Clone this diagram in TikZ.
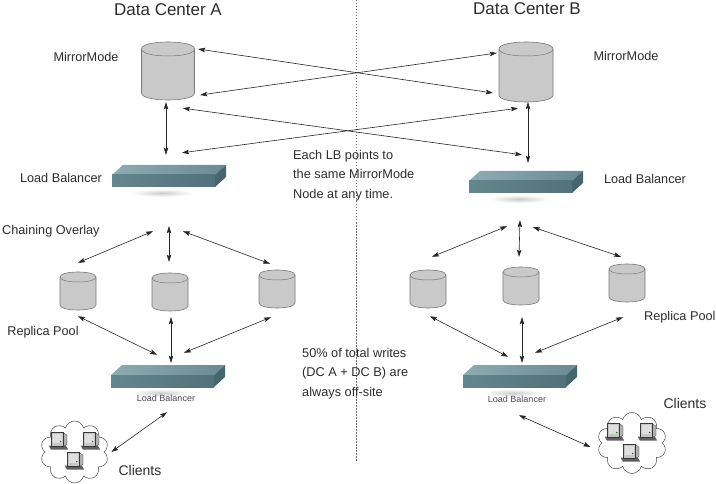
\documentclass[tikz,border=0pt]{standalone}
\usepackage{fontspec}
\setmainfont{Liberation Sans}
\usetikzlibrary{arrows.meta,calc,shapes.symbols}
\definecolor{cylfill}{RGB}{201,201,201}
\definecolor{cyledge}{RGB}{120,120,120}
\definecolor{lbtopL}{RGB}{142,172,178}
\definecolor{lbtopR}{RGB}{104,138,146}
\definecolor{lbfrontL}{RGB}{100,134,141}
\definecolor{lbfrontR}{RGB}{80,114,123}
\definecolor{lbsidec}{RGB}{70,102,110}
\definecolor{txt}{RGB}{45,45,45}
\tikzset{
  pics/dbcyl/.style args={#1/#2/#3}{code={
    \node[inner sep=0, minimum width=#1, minimum height=#2] (-box) {};
    \pgfmathsetmacro\hw{#1/2}
    \pgfmathsetmacro\ytop{-#2/2+#3}
    \pgfmathsetmacro\ytopu{\ytop-4/3*#3}
    \pgfmathsetmacro\ytopd{\ytop+4/3*#3}
    \pgfmathsetmacro\ybot{#2/2-#3}
    \pgfmathsetmacro\ybotd{\ybot+4/3*#3}
    \path[fill=cylfill, draw=cyledge, line width=0.6pt]
      (-\hw,\ytop) -- (-\hw,\ybot) .. controls (-\hw,\ybotd) and (\hw,\ybotd) .. (\hw,\ybot)
      -- (\hw,\ytop) .. controls (\hw,\ytopu) and (-\hw,\ytopu) .. cycle;
    \draw[cyledge, line width=0.5pt] (-\hw,\ytop) .. controls (-\hw,\ytopd) and (\hw,\ytopd) .. (\hw,\ytop);
  }},
  pics/lbslab/.style={code={
    \node[inner sep=0, minimum width=114, minimum height=22] (-box) {};
    \shade[inner color=gray!40, outer color=white] (-7,17) ellipse [x radius=30, y radius=4];
    \shade[left color=lbtopL, right color=lbtopR] (-57,-1) -- (-46,-11) -- (57,-11) -- (46,-1) -- cycle;
    \shade[left color=lbfrontL, right color=lbfrontR] (-57,-1) rectangle (46,11);
    \fill[lbsidec] (46,-1) -- (57,-11) -- (57,1) -- (46,11) -- cycle;
  }},
  pics/pc/.style={code={
    \begin{scope}[scale=1.15]
    \fill[gray!75!black] (-9,4) -- (6,4) -- (8,7.5) -- (-7,7.5) -- cycle;
    \fill[gray!60, draw=gray!45!black, line width=0.3pt] (4,-7) -- (7,-5) -- (7,3) -- (4,4.5) -- cycle;
    \fill[gray!45, draw=gray!45!black, line width=0.3pt] (-7,-8) rectangle (4,4.5);
    \fill[gray!25] (-5.5,-6.5) rectangle (2.5,2);
    \fill[green!50!black] (1.5,0.5) circle (0.7);
    \end{scope}
  }},
  bi/.style={draw=black!85, line width=0.6pt, {Stealth[length=7pt,width=4.5pt,inset=1.2pt]}-{Stealth[length=7pt,width=4.5pt,inset=1.2pt]}},
  lbl/.style={text=txt, inner sep=0, font=\fontsize{12.7}{15}\selectfont, text height=9.1pt, text depth=0pt},
  ttl/.style={text=txt, inner sep=0, font=\fontsize{17}{20}\selectfont, text height=12.2pt, text depth=0pt},
  smalllbl/.style={text=black!70, inner sep=0, font=\fontsize{9}{11}\selectfont, text height=6.5pt, text depth=0pt},
  clientlbl/.style={text=txt, inner sep=0, font=\fontsize{14}{17}\selectfont, text height=10pt, text depth=0pt},
  note/.style={text=txt, inner sep=0, align=left, anchor=north west, font=\fontsize{12.75}{19.5}\selectfont},
  cloudc/.style={cloud, cloud puffs=10, aspect=1.1, draw=black!70, fill=white, line width=0.5pt, inner sep=0},
}
\begin{document}
\begin{tikzpicture}[x=1pt,y=-1pt]
\useasboundingbox (0,0) rectangle (716,484);
\fill[white] (0,0) rectangle (716,484);

% divider
\coordinate (dtop) at (356,0);
\coordinate (dbot) at (356,462);
\draw[black!55, line width=0.5pt, dash pattern=on 1.5pt off 1.5pt] (dtop) -- (dbot);

% titles
\node[ttl] (tA) at (168,9) {Data Center A};
\node[ttl] (tB) at (527,8) {Data Center B};

% mirror mode cylinders
\pic (mA) at (168,71) {dbcyl=53/58/7};
\pic (mB) at (526,72) {dbcyl=54/60/7};
\node[lbl] (lmA) at (86,57) {MirrorMode};
\node[lbl] (lmB) at (626,56) {MirrorMode};

% load balancers (top)
\pic (lbA) at (169,176) {lbslab};
\pic (lbB) at (526,182) {lbslab};
\node[lbl] (llbA) at (61,178) {Load Balancer};
\node[lbl] (llbB) at (645,179) {Load Balancer};

% notes
\node[note] (n1) at (293,150) {Each LB points to\\the same MirrorMode\\Node at any time.};
\node[note] (n2) at (302,348) {50\% of total writes\\(DC A + DC B) are\\always off-site};

% crossing arrows
\draw[bi] ($(mA-box.east)+(3.5,-22)$) -- ($(mB-box.west)+(-6,21)$);
\draw[bi] ($(mA-box.east)+(5.5,24)$) -- ($(mB-box.west)+(-2,-19)$);
\draw[bi] ($(mA-box.south)+(15,8)$) -- ($(lbB-box.north)+(-4,-16)$);
\draw[bi] ($(lbA-box.north)+(13,-12)$) -- ($(mB-box.south)+(-8,6)$);

% vertical mirror-LB arrows
\draw[bi] ($(mA-box.south)+(-2,2)$) -- ($(lbA-box.north)+(-3,-10)$);
\draw[bi] ($(mB-box.south)+(2,0)$) -- ($(lbB-box.north)+(2,-8)$);

% replica cylinders
\pic (rA1) at (78,291) {dbcyl=36/38/5};
\pic (rA2) at (170,292) {dbcyl=36/38/5};
\pic (rA3) at (277,289) {dbcyl=36/38/5};
\pic (rB1) at (428,289) {dbcyl=36/38/5};
\pic (rB2) at (521,286) {dbcyl=36/38/5};
\pic (rB3) at (627,283) {dbcyl=36/38/5};

\node[lbl, anchor=west] (lco) at (2,230) {Chaining Overlay};
\node[lbl] (lrpA) at (43,331) {Replica Pool};
\node[lbl, anchor=west] (lrpB) at (644,316) {Replica Pool};

% chaining overlay arrows
\draw[bi] ($(lbA-box.south)+(-16,44)$) -- ($(rA1-box.north)+(0,-9)$);
\draw[bi] ($(lbA-box.south)+(0,39)$) -- ($(rA2-box.north)+(-1,-11)$);
\draw[bi] ($(lbA-box.south)+(14,44)$) -- ($(rA3-box.north)+(-7,-6)$);
\draw[bi] ($(lbB-box.south)+(-19,33)$) -- ($(rB1-box.north)+(4,-13)$);
\draw[bi] ($(lbB-box.south)+(-6,27)$) -- ($(rB2-box.north)+(-2,-10)$);
\draw[bi] ($(lbB-box.south)+(7,34)$) -- ($(rB3-box.north)+(-6,-7)$);

% bottom load balancers
\pic (lbA2) at (168,376) {lbslab};
\pic (lbB2) at (520,376) {lbslab};
\node[smalllbl] (slA) at (166,398) {Load Balancer};
\node[smalllbl] (slB) at (517,399) {Load Balancer};

% replica to LB arrows
\draw[bi] ($(rA1-box.south)+(0,6)$) -- ($(lbA2-box.north)+(-11,-10)$);
\draw[bi] ($(rA2-box.south)+(1,6)$) -- ($(lbA2-box.north)+(3,-2)$);
\draw[bi] ($(rA3-box.south)+(-6,9)$) -- ($(lbA2-box.north)+(16,-12)$);
\draw[bi] ($(rB1-box.south)+(2,8)$) -- ($(lbB2-box.north)+(-12,-8)$);
\draw[bi] ($(rB2-box.south)+(1,12)$) -- ($(lbB2-box.north)+(2,-2)$);
\draw[bi] ($(rB3-box.south)+(-4,15)$) -- ($(lbB2-box.north)+(15,-12)$);

% clients
\node[cloudc, minimum width=68, minimum height=62] (clA) at (74.5,452) {};
\pic at (59,441) {pc};
\pic at (91,441) {pc};
\pic at (75,461) {pc};
\node[cloudc, minimum width=69, minimum height=61] (clB) at (632,443) {};
\pic at (615,432) {pc};
\pic at (648,432) {pc};
\pic at (631,453) {pc};
\node[clientlbl] (lcA) at (140,470) {Clients};
\node[clientlbl] (lcB) at (685,403) {Clients};

\draw[bi] ($(clA.east)+(7,0)$) -- ($(lbA2-box.south)+(-1,25)$);
\draw[bi] ($(lbB2-box.south)+(-1,28)$) -- ($(clB.west)+(-11,4)$);
\end{tikzpicture}
\end{document}
